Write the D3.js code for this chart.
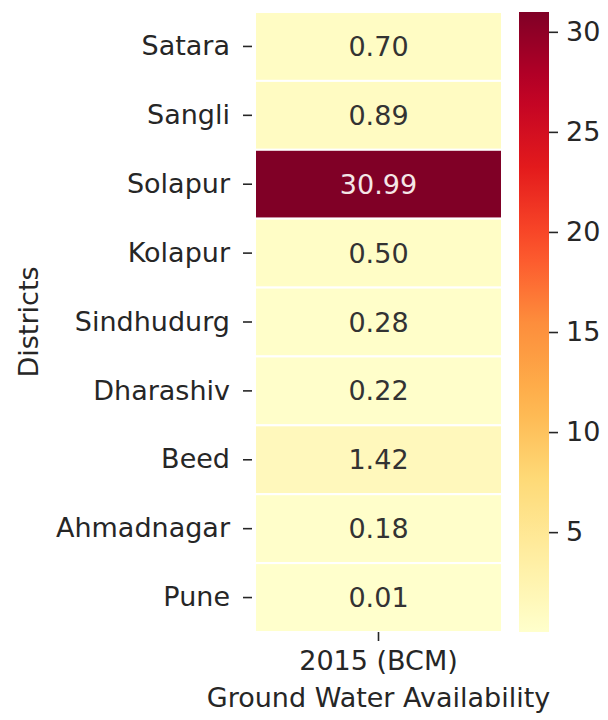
<!DOCTYPE html>
<html>
<head>
<meta charset="utf-8">
<script src="https://cdn.jsdelivr.net/npm/d3@7"></script>
<style>
  body { margin: 0; background: #fff; }
  text { font-family: "DejaVu Sans", sans-serif; }
</style>
</head>
<body>
<script>
'use strict';

// data
const districts = ["Satara", "Sangli", "Solapur", "Kolapur", "Sindhudurg",
                   "Dharashiv", "Beed", "Ahmadnagar", "Pune"];
const years = ["2015 (BCM)"];
const availability = [0.70, 0.89, 30.99, 0.50, 0.28, 0.22, 1.42, 0.18, 0.01];
const cbarTicks = [5, 10, 15, 20, 25, 30];

// matplotlib YlOrRd stops
const ylorrd = ["#ffffcc", "#ffeda0", "#fed976", "#feb24c", "#fd8d3c",
                "#fc4e2a", "#e31a1c", "#bd0026", "#800026"];

(function() {
  const W = 608, H = 720, fs = 27;
  const top = 12, bottom = 632;
  const hmLeft = 255, hmRight = 502;
  const cbLeft = 519, cbRight = 549;
  const tickLen = 9, tickPad = 10;

  const svg = d3.select('body').append('svg')
    .attr('width', W).attr('height', H);

  const vmin = d3.min(availability), vmax = d3.max(availability);
  const interp = d3.piecewise(d3.interpolateRgb, ylorrd);
  const color = v => interp((v - vmin) / (vmax - vmin));

  const x = d3.scaleBand().domain(years).range([hmLeft, hmRight]);
  const y = d3.scaleBand().domain(districts).range([top, bottom]);

  const rows = districts.map((d, i) => ({ district: d, year: years[0], value: availability[i] }));

  // cells
  svg.append('g').selectAll('rect')
    .data(rows)
    .enter()
    .append('rect')
      .attr('x', d => x(d.year))
      .attr('y', d => y(d.district))
      .attr('width', x.bandwidth())
      .attr('height', y.bandwidth())
      .attr('fill', d => color(d.value))
      .attr('stroke', '#fff')
      .attr('stroke-width', 2);

  // annotations
  svg.append('g').selectAll('text')
    .data(rows)
    .enter()
    .append('text')
      .attr('x', d => x(d.year) + x.bandwidth() / 2)
      .attr('y', d => y(d.district) + y.bandwidth() / 2)
      .attr('text-anchor', 'middle')
      .attr('dominant-baseline', 'central')
      .style('font-size', fs + 'px')
      .attr('fill', d => d.value > 20 ? '#f4e6e6' : '#333333')
      .text(d => d.value.toFixed(2));

  // y axis (ticks stop short of the cells)
  const yAxis = d3.axisLeft(y).tickSize(tickLen).tickPadding(tickPad + 3);
  const gy = svg.append('g')
    .attr('transform', `translate(${hmLeft - 3}, 0)`)
    .call(yAxis);
  gy.select('.domain').remove();
  gy.selectAll('line').attr('stroke', '#262626').attr('stroke-width', 1.6);
  gy.selectAll('text').style('font-size', fs + 'px').attr('fill', '#262626')
    .style('font-family', '"DejaVu Sans", sans-serif');

  // x axis
  const xAxis = d3.axisBottom(x).tickSize(tickLen).tickPadding(tickPad);
  const gx = svg.append('g')
    .attr('transform', `translate(0, ${bottom})`)
    .call(xAxis);
  gx.select('.domain').remove();
  gx.selectAll('line').attr('stroke', '#262626').attr('stroke-width', 1.6);
  gx.selectAll('text').style('font-size', fs + 'px').attr('fill', '#262626')
    .style('font-family', '"DejaVu Sans", sans-serif');

  // axis labels
  svg.append('text')
    .attr('x', (hmLeft + hmRight) / 2)
    .attr('y', 697)
    .attr('text-anchor', 'middle')
    .attr('dominant-baseline', 'central')
    .style('font-size', fs + 'px')
    .attr('fill', '#262626')
    .text('Ground Water Availability');

  svg.append('text')
    .attr('transform', `translate(28, ${(top + bottom) / 2}) rotate(-90)`)
    .attr('text-anchor', 'middle')
    .attr('dominant-baseline', 'central')
    .style('font-size', fs + 'px')
    .attr('fill', '#262626')
    .text('Districts');

  // colorbar
  const cbScale = d3.scaleLinear().domain([vmin, vmax]).range([bottom, top]);
  const grad = svg.append('defs').append('linearGradient')
    .attr('id', 'cbar')
    .attr('x1', 0).attr('y1', 1).attr('x2', 0).attr('y2', 0);
  d3.range(0, 1.0001, 0.05).forEach(t => {
    grad.append('stop').attr('offset', t).attr('stop-color', interp(t));
  });
  svg.append('rect')
    .attr('x', cbLeft).attr('y', top)
    .attr('width', cbRight - cbLeft).attr('height', bottom - top)
    .attr('fill', 'url(#cbar)');

  const cbAxis = d3.axisRight(cbScale).tickValues(cbarTicks)
    .tickSize(tickLen).tickPadding(tickPad - 2).tickFormat(d3.format('d'));
  const gc = svg.append('g')
    .attr('transform', `translate(${cbRight}, 0)`)
    .call(cbAxis);
  gc.select('.domain').remove();
  gc.selectAll('line').attr('stroke', '#262626').attr('stroke-width', 1.6);
  gc.selectAll('text').style('font-size', fs + 'px').attr('fill', '#262626')
    .style('font-family', '"DejaVu Sans", sans-serif');
})();
</script>
</body>
</html>
